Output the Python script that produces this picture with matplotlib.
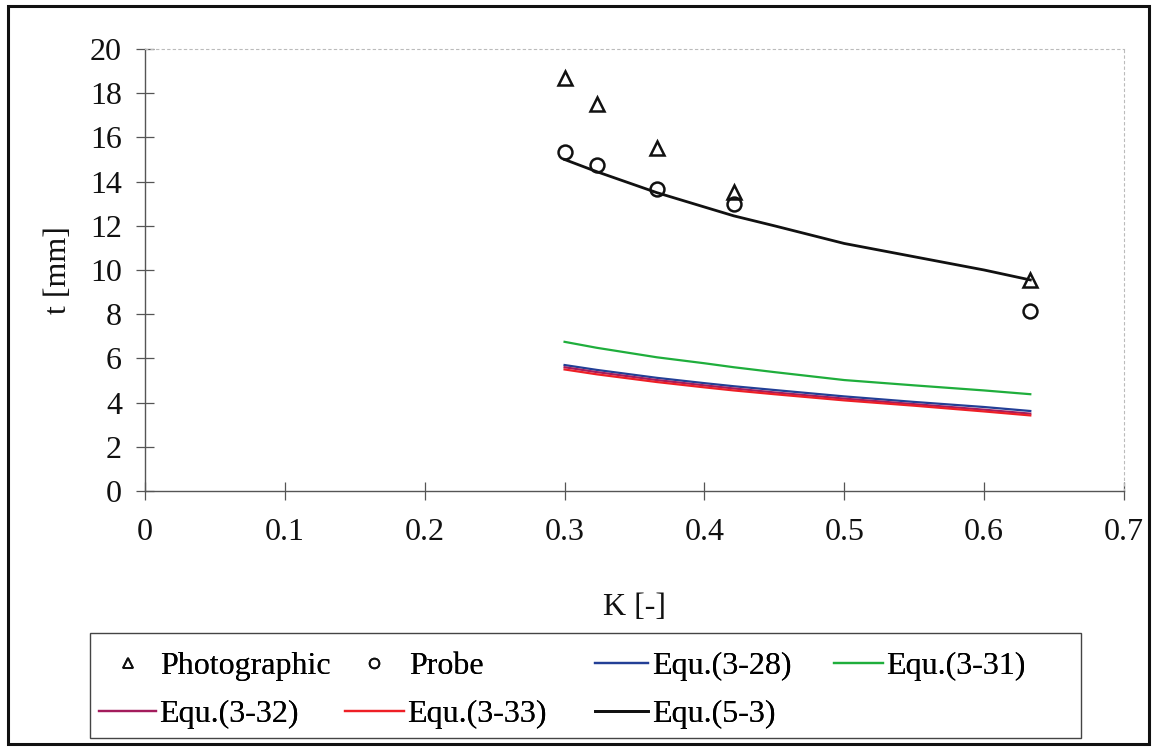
import matplotlib
matplotlib.use("Agg")
import matplotlib.pyplot as plt
from matplotlib.lines import Line2D
from matplotlib.patches import Rectangle

plt.rcParams['font.family'] = ['Liberation Serif', 'DejaVu Serif']

# Measured data
k_meas = [0.300, 0.323, 0.366, 0.421, 0.633]
t_photo = [18.7, 17.5, 15.5, 13.55, 9.57]
t_probe = [15.35, 14.75, 13.65, 13.0, 8.13]

# Model curves
k_line = [0.300, 0.323, 0.366, 0.400, 0.421, 0.450, 0.500, 0.550, 0.600, 0.633]
t_eq328 = [5.70, 5.48, 5.12, 4.88, 4.74, 4.57, 4.28, 4.03, 3.80, 3.62]
t_eq331 = [6.75, 6.48, 6.05, 5.78, 5.60, 5.38, 5.02, 4.78, 4.55, 4.38]
t_eq332 = [5.60, 5.38, 5.02, 4.78, 4.64, 4.46, 4.18, 3.93, 3.68, 3.50]
t_eq333 = [5.50, 5.28, 4.93, 4.69, 4.55, 4.38, 4.10, 3.86, 3.60, 3.42]
t_eq53 = [15.0, 14.45, 13.5, 12.85, 12.45, 12.0, 11.2, 10.6, 10.0, 9.55]

x_ticks = [0, 0.1, 0.2, 0.3, 0.4, 0.5, 0.6, 0.7]
x_ticklabels = ['0', '0.1', '0.2', '0.3', '0.4', '0.5', '0.6', '0.7']
y_ticks = list(range(0, 21, 2))

fig = plt.figure(figsize=(11.55, 7.5), dpi=100)
ax = fig.add_axes([145/1155, 1-491/750, (1124-145)/1155, (491-49)/750])

c_blue = '#233f96'
c_green = '#1fae3c'
c_purple = '#a31c5c'
c_red = '#ee1f26'

l328, = ax.plot(k_line, t_eq328, color=c_blue, lw=1.6)
l331, = ax.plot(k_line, t_eq331, color=c_green, lw=1.6)
l332, = ax.plot(k_line, t_eq332, color=c_purple, lw=1.6)
l333, = ax.plot(k_line, t_eq333, color=c_red, lw=1.6)
l53, = ax.plot(k_line, t_eq53, color='#111111', lw=2.0)
ax.plot(k_meas, t_photo, linestyle='none', marker='^', markersize=10,
        markerfacecolor='none', markeredgecolor='#111111', markeredgewidth=1.8)
ax.plot(k_meas, t_probe, linestyle='none', marker='o', markersize=10,
        markerfacecolor='none', markeredgecolor='#111111', markeredgewidth=1.8)

ax.set_xlim(0, 0.7)
ax.set_ylim(0, 20)
ax.set_xticks(x_ticks)
ax.set_xticklabels(x_ticklabels)
ax.set_yticks(y_ticks)
ax.tick_params(axis='both', direction='inout', length=13, width=0.9,
               color='#555555', labelsize=23, labelcolor='#111111')
ax.tick_params(axis='x', pad=13)
ax.tick_params(axis='y', pad=10)

for s in ['left', 'bottom']:
    ax.spines[s].set_color('#555555')
    ax.spines[s].set_linewidth(1.0)
for s in ['top', 'right']:
    ax.spines[s].set_color('#bbbbbb')
    ax.spines[s].set_linewidth(0.8)
    ax.spines[s].set_linestyle((0, (2, 3)))

ax.set_xlabel('K [-]', fontsize=23, labelpad=33, color='#111111')
ax.set_ylabel('t [mm]', fontsize=23, labelpad=12, color='#111111')

# Legend entries placed individually (Excel-style flowing layout)
h_photo = Line2D([], [], linestyle='none', marker='^', markersize=7,
                 markerfacecolor='none', markeredgecolor='#111111', markeredgewidth=1.3)
h_probe = Line2D([], [], linestyle='none', marker='o', markersize=7,
                 markerfacecolor='none', markeredgecolor='#111111', markeredgewidth=1.3)

entries = [
    (h_photo, 'Photographic', 104, 666, 1.5, 0.27),
    (h_probe, 'Probe', 350, 666, 1.5, 0.36),
    (l328, 'Equ.(3-28)', 595, 666, 1.66, 0.12),
    (l331, 'Equ.(3-31)', 834, 666, 1.54, 0.08),
    (l332, 'Equ.(3-32)', 99, 714, 1.79, 0.08),
    (l333, 'Equ.(3-33)', 345, 714, 1.85, 0.08),
    (l53, 'Equ.(5-3)', 595, 714, 1.66, 0.12),
]
for h, lab, x0, yc, hl, tp in entries:
    lg = fig.legend([h], [lab], loc='center left',
                    bbox_to_anchor=(x0/1155, 1-yc/750),
                    fontsize=23, frameon=False, handlelength=hl,
                    handletextpad=tp, borderpad=0, borderaxespad=0)
    fig.add_artist(lg)

fig.patches.append(Rectangle((90/1155, 1-738/750), (1081-90)/1155, (738-633)/750,
                             transform=fig.transFigure, fill=False,
                             edgecolor='#444444', linewidth=1.0))

# Outer frame
fig.patches.append(Rectangle((8/1155, 6/750), (1149-8)/1155, (744-6)/750,
                             transform=fig.transFigure, fill=False,
                             edgecolor='#111111', linewidth=2.2))

fig.savefig('out.png', dpi=100)
